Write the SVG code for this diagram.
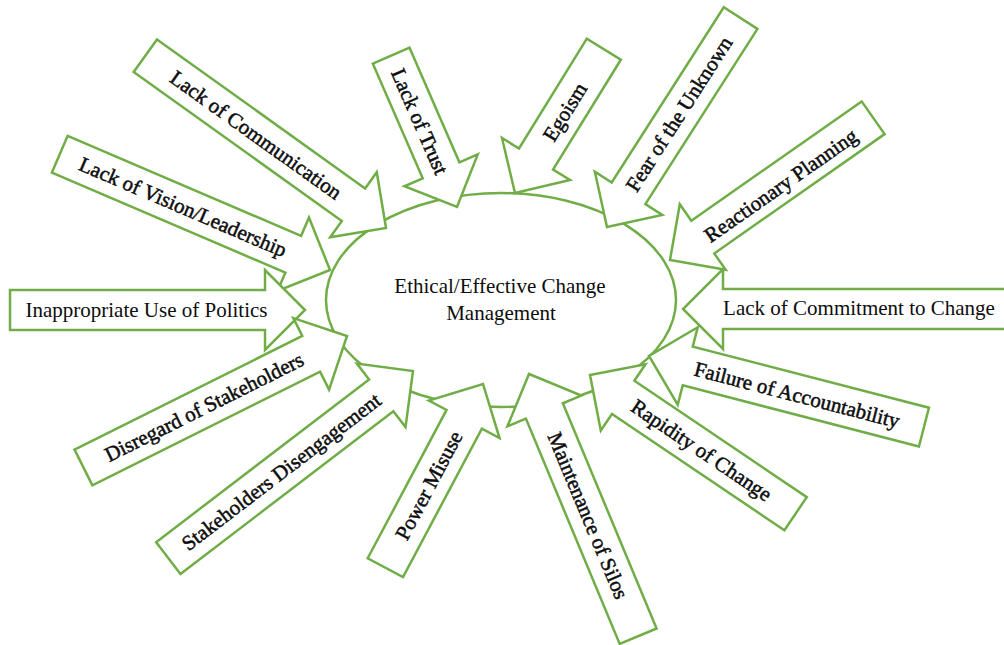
<svg xmlns="http://www.w3.org/2000/svg" width="1004" height="645" viewBox="0 0 1004 645">
  <style>
    .arrow { fill: #ffffff; stroke: #70AD47; stroke-width: 2.5; stroke-linejoin: miter; }
    .hub { fill: #ffffff; stroke: #70AD47; stroke-width: 2.5; }
    text { font-family: "Liberation Serif", "Times New Roman", serif; font-size: 21px; fill: #0d0d0d; }
    .lbl { text-anchor: middle; }
    .rot { stroke: #0d0d0d; stroke-width: 0.5; }
  </style>

  <!-- central hub -->
  <g id="hub">
    <ellipse class="hub" cx="501" cy="300" rx="175" ry="107"/>
    <text x="500" y="293" class="lbl">Ethical/Effective Change</text>
    <text x="501" y="320" class="lbl">Management</text>
  </g>

  <!-- block arrows: local frame has the tip at the origin, pointing along +x -->
  <g id="connectors">
    <g id="arrow-communication" transform="translate(386 228) rotate(35.6)">
      <path class="arrow" d="M -296 -20 H -40 V -40 L 0 0 L -40 40 V 20 H -296 Z"/>
    </g>
    <g id="arrow-vision" transform="translate(330 270) rotate(23.2)">
      <path class="arrow" d="M -294 -20 H -40 V -40 L 0 0 L -40 40 V 20 H -294 Z"/>
    </g>
    <g id="arrow-trust" transform="translate(457 207) rotate(66.5)">
      <path class="arrow" d="M -165 -20 H -40 V -40 L 0 0 L -40 40 V 20 H -165 Z"/>
    </g>
    <g id="arrow-egoism" transform="translate(515 193) rotate(121.7)">
      <path class="arrow" d="M -169 -20 H -40 V -40 L 0 0 L -40 40 V 20 H -169 Z"/>
    </g>
    <g id="arrow-fear" transform="translate(607 227) rotate(122.6)">
      <path class="arrow" d="M -248 -20 H -40 V -40 L 0 0 L -40 40 V 20 H -248 Z"/>
    </g>
    <g id="arrow-reactionary" transform="translate(670 260) rotate(145)">
      <path class="arrow" d="M -248 -20 H -40 V -40 L 0 0 L -40 40 V 20 H -248 Z"/>
    </g>
    <g id="arrow-commitment" transform="translate(683 309) rotate(180)">
      <path class="arrow" d="M -340 -20 H -40 V -40 L 0 0 L -40 40 V 20 H -340 Z"/>
    </g>
    <g id="arrow-failure" transform="translate(649 356) rotate(194.5)">
      <path class="arrow" d="M -284 -20 H -40 V -40 L 0 0 L -40 40 V 20 H -284 Z"/>
    </g>
    <g id="arrow-rapidity" transform="translate(590 375) rotate(214)">
      <path class="arrow" d="M -248 -20 H -40 V -40 L 0 0 L -40 40 V 20 H -248 Z"/>
    </g>
    <g id="arrow-silos" transform="translate(529 374) rotate(247.4)">
      <path class="arrow" d="M -284 -20 H -40 V -40 L 0 0 L -40 40 V 20 H -284 Z"/>
    </g>
    <g id="arrow-power" transform="translate(483 384) rotate(-62)">
      <path class="arrow" d="M -208 -20 H -40 V -40 L 0 0 L -40 40 V 20 H -208 Z"/>
    </g>
    <g id="arrow-disengagement" transform="translate(413 371) rotate(-37.4)">
      <path class="arrow" d="M -308 -20 H -40 V -40 L 0 0 L -40 40 V 20 H -308 Z"/>
    </g>
    <g id="arrow-politics" transform="translate(305 310)">
      <path class="arrow" d="M -295 -20 H -40 V -40 L 0 0 L -40 40 V 20 H -295 Z"/>
    </g>
    <g id="arrow-disregard" transform="translate(347 336) rotate(-26.5)">
      <path class="arrow" d="M -294.5 -20 H -40 V -40 L 0 0 L -40 40 V 20 H -294.5 Z"/>
    </g>
  </g>

  <!-- arrow labels -->
  <g id="labels">
    <g id="node-politics"><text class="lbl" x="146.5" y="317">Inappropriate Use of Politics</text></g>
    <g id="node-commitment"><text class="lbl" x="859" y="315">Lack of Commitment to Change</text></g>
    <g id="node-vision"><text class="lbl rot" x="0" y="7" transform="translate(183 207) rotate(23.2)">Lack of Vision/Leadership</text></g>
    <g id="node-communication"><text class="lbl rot" x="0" y="7" transform="translate(256 135) rotate(35.6)">Lack of Communication</text></g>
    <g id="node-trust"><text class="lbl rot" x="0" y="7" transform="translate(419.7 121.5) rotate(66.5)">Lack of Trust</text></g>
    <g id="node-egoism"><text class="lbl rot" x="0" y="7" transform="translate(565 112) rotate(-58.3)">Egoism</text></g>
    <g id="node-fear"><text class="lbl rot" x="0" y="7" transform="translate(679 114) rotate(-57.4)">Fear of the Unknown</text></g>
    <g id="node-reactionary"><text class="lbl rot" x="0" y="7" transform="translate(780.8 185.5) rotate(-35)">Reactionary Planning</text></g>
    <g id="node-failure"><text class="lbl rot" x="0" y="7" transform="translate(797 395) rotate(14.5)">Failure of Accountability</text></g>
    <g id="node-rapidity"><text class="lbl rot" x="0" y="7" transform="translate(701.5 450.3) rotate(34)">Rapidity of Change</text></g>
    <g id="node-silos"><text class="lbl rot" x="0" y="7" transform="translate(588 515.6) rotate(67.4)">Maintenance of Silos</text></g>
    <g id="node-power"><text class="lbl rot" x="0" y="7" transform="translate(429 485.4) rotate(-62)">Power Misuse</text></g>
    <g id="node-disengagement"><text class="lbl rot" x="0" y="7" transform="translate(281.2 471.8) rotate(-37.4)">Stakeholders Disengagement</text></g>
    <g id="node-disregard"><text class="lbl rot" x="0" y="7" transform="translate(204.2 407.1) rotate(-26.5)">Disregard of Stakeholders</text></g>
  </g>
</svg>
